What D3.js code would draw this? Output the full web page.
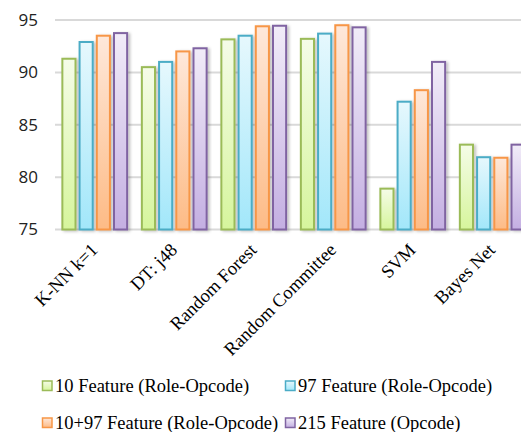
<!DOCTYPE html>
<html><head><meta charset="utf-8">
<script src="https://cdn.jsdelivr.net/npm/d3@7"></script>
<style>body{margin:0;background:#fff}svg{display:block}</style>
</head><body>
<svg id="c" width="521" height="432"></svg>
<script>
const categories = ["K-NN k=1","DT: j48","Random Forest","Random Committee","SVM","Bayes Net"];
const seriesNames = ["10 Feature (Role-Opcode)","97 Feature (Role-Opcode)","10+97 Feature (Role-Opcode)","215 Feature (Opcode)"];
const s10 = [91.3, 90.5, 93.15, 93.2, 78.9, 83.1];
const s97 = [92.9, 91.0, 93.5, 93.7, 87.2, 81.9];
const s10p97 = [93.5, 92.0, 94.4, 94.5, 88.3, 81.85];
const s215 = [93.75, 92.3, 94.45, 94.3, 91.0, 83.1];
const yTicks = [75, 80, 85, 90, 95];
const series = [s10, s97, s10p97, s215];
const strokes = ["#9bbb59","#4bacc6","#f79646","#8064a2"];
const topFill = ["#f5fce8","#e6f8fd","#fee8da","#f1ecf8"];
const botFill = ["#d6f59c","#a2e7fa","#fdbb86","#c4afe2"];

const svg = d3.select("#c");
const L = 55, R = 532, T = 20, B = 229.5;
const x0 = d3.scaleBand().domain(categories).range([L, R]).paddingInner(0.16).paddingOuter(0.08);
const x1 = d3.scaleBand().domain(d3.range(4)).range([0, x0.bandwidth()]).paddingInner(0.12);
const y = d3.scaleLinear().domain([75, 95]).range([B, T]);

const defs = svg.append("defs");
series.forEach((s, i) => {
  const g = defs.append("linearGradient").attr("id", "g" + i).attr("x1", 0).attr("y1", 0).attr("x2", 0).attr("y2", 1);
  g.append("stop").attr("offset", "0%").attr("stop-color", topFill[i]);
  g.append("stop").attr("offset", "100%").attr("stop-color", botFill[i]);
});
const f = defs.append("filter").attr("id", "sh").attr("x", "-20%").attr("y", "-5%").attr("width", "160%").attr("height", "115%");
f.append("feDropShadow").attr("dx", 2).attr("dy", 1).attr("stdDeviation", 1.5).attr("flood-color", "#000").attr("flood-opacity", 0.25);

// gridlines
svg.append("g").selectAll("line").data(yTicks).join("line")
  .attr("x1", L).attr("x2", 521).attr("y1", d => y(d)).attr("y2", d => y(d))
  .attr("stroke", "#d9d9d9").attr("stroke-width", 2);

// y labels
const yAxis = svg.append("g").attr("transform", `translate(${L},0)`)
  .call(d3.axisLeft(y).tickValues(yTicks).tickSize(0).tickPadding(17));
yAxis.select(".domain").remove();
yAxis.selectAll("text").attr("font-family", "'Open Sans', 'Noto Sans', sans-serif").attr("font-size", 17).attr("fill", "#222");

// bars
const groups = svg.append("g").selectAll("g").data(categories).join("g")
  .attr("transform", d => `translate(${x0(d)},0)`);
groups.selectAll("rect").data((d, ci) => series.map((s, si) => ({si, v: s[ci]}))).join("rect")
  .attr("x", d => x1(d.si) + 1)
  .attr("width", x1.bandwidth() - 2)
  .attr("y", d => y(d.v))
  .attr("height", d => y(75) - y(d.v))
  .attr("fill", d => `url(#g${d.si})`)
  .attr("stroke", d => strokes[d.si])
  .attr("stroke-width", 2)
  .attr("filter", "url(#sh)");

// x labels
svg.append("g").selectAll("text").data(categories).join("text")
  .attr("transform", d => `translate(${x0(d) + x0.bandwidth()/2 + 4},${251}) rotate(-45)`)
  .attr("text-anchor", "end")
  .attr("font-family", "'Liberation Serif', 'Times New Roman', serif")
  .attr("font-size", 18.5).attr("fill", "#000")
  .text(d => d);

// legend
const legPos = [[42, 386], [285, 386], [42, 423], [285, 423]];
const leg = svg.append("g").selectAll("g").data(seriesNames).join("g")
  .attr("transform", (d, i) => `translate(${legPos[i][0]},${legPos[i][1]})`);
leg.append("rect").attr("x", 0.5).attr("y", -5).attr("width", 9.5).attr("height", 9.5)
  .attr("fill", (d, i) => `url(#g${i})`).attr("stroke", (d, i) => strokes[i]).attr("stroke-width", 1.5);
leg.append("text").attr("x", 13).attr("y", 0).attr("dy", "0.33em")
  .attr("font-family", "'Liberation Serif', 'Times New Roman', serif")
  .attr("font-size", 18.5).attr("fill", "#000").text(d => d);
</script>
</body></html>
